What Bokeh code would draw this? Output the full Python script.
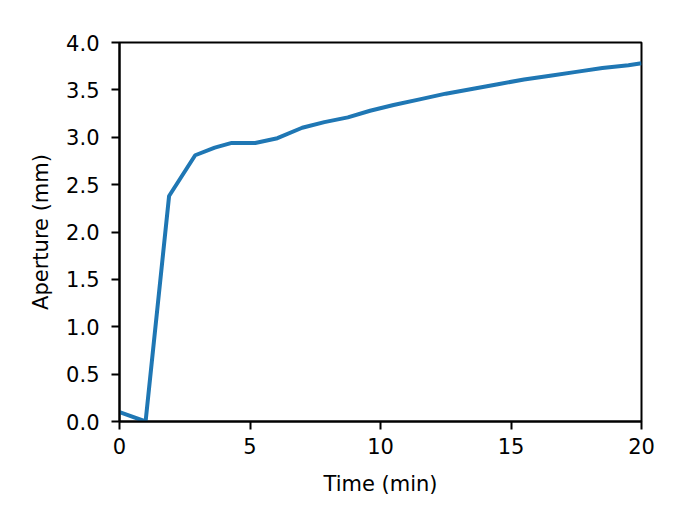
from bokeh.plotting import figure
from bokeh.embed import file_html
from bokeh.resources import INLINE
from bokeh.models import Range1d, FixedTicker

# Data
time_min = [0.0, 1.0, 1.9, 2.9, 3.65, 4.3, 5.2, 6.05, 7.0, 7.85, 8.75, 9.6,
            10.5, 11.5, 12.5, 13.5, 14.5, 15.5, 16.5, 17.5, 18.5, 19.5, 20.0]
aperture_mm = [0.10, 0.0, 2.38, 2.81, 2.89, 2.94, 2.94, 2.99, 3.10, 3.16, 3.21, 3.28,
               3.34, 3.40, 3.46, 3.51, 3.56, 3.61, 3.65, 3.69, 3.73, 3.76, 3.78]
x_ticks = [0, 5, 10, 15, 20]
y_ticks = [0.0, 0.5, 1.0, 1.5, 2.0, 2.5, 3.0, 3.5, 4.0]
y_tick_labels = {t: f"{t:.1f}" for t in y_ticks}

W, H = 692, 517
p = figure(width=W, height=H, output_backend="svg", toolbar_location=None,
           x_range=Range1d(0, 20), y_range=Range1d(0, 4))
p.min_border_left = 119
p.min_border_right = W - 641
p.min_border_top = 42
p.min_border_bottom = H - 421

p.line(time_min, aperture_mm, line_color="#1f77b4", line_width=4)

p.grid.visible = False
p.outline_line_color = "black"
p.outline_line_width = 2
p.background_fill_color = "white"
p.border_fill_color = "white"

font = "DejaVu Sans"
for ax in (p.xaxis[0], p.yaxis[0]):
    ax.axis_line_width = 2
    ax.major_tick_line_width = 2
    ax.major_tick_out = 8
    ax.major_tick_in = 0
    ax.minor_tick_out = 0
    ax.minor_tick_in = 0
    ax.major_label_text_font = font
    ax.major_label_text_font_size = "21px"
    ax.major_label_text_color = "black"
    ax.axis_label_text_font = font
    ax.axis_label_text_font_size = "21px"
    ax.axis_label_text_font_style = "normal"
    ax.axis_label_text_color = "black"

p.xaxis.ticker = FixedTicker(ticks=x_ticks)
p.yaxis.ticker = FixedTicker(ticks=y_ticks)
p.yaxis.major_label_overrides = y_tick_labels
p.xaxis.axis_label = "Time (min)"
p.yaxis.axis_label = "Aperture (mm)"
p.xaxis.major_label_standoff = 8
p.yaxis.major_label_standoff = 12
p.xaxis.axis_label_standoff = 15
p.yaxis.axis_label_standoff = 10

open("out.html", "w").write(file_html(p, INLINE))
